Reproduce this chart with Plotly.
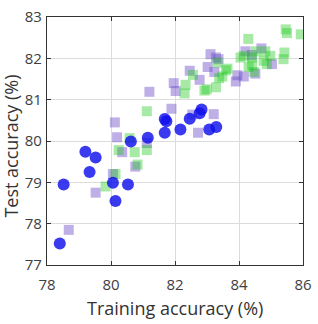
import plotly.graph_objects as go

blue_x = [78.40, 78.52, 79.20, 79.52, 79.33, 80.06, 80.14, 80.53, 80.62, 81.15,
          81.68, 81.68, 81.73, 82.17, 82.46, 82.77, 82.83, 83.07, 83.29]
blue_y = [77.52, 78.95, 79.74, 79.60, 79.25, 78.99, 78.55, 78.95, 79.99, 80.08,
          80.20, 80.53, 80.48, 80.28, 80.54, 80.67, 80.76, 80.28, 80.34]

purple_x = [78.68, 79.52, 80.06, 80.35, 80.76, 80.19, 80.12, 81.12, 81.20, 81.89,
            81.96, 82.02, 82.46, 82.77, 82.54, 82.72, 83.21, 83.11, 83.36, 83.02,
            83.28, 83.23, 83.90, 83.95, 84.20, 84.51, 84.70, 85.03, 84.15, 84.40]
purple_y = [77.85, 78.75, 79.20, 79.73, 79.38, 80.09, 80.45, 79.95, 81.19, 80.78,
            81.40, 81.21, 81.70, 81.48, 80.64, 80.20, 80.65, 82.10, 81.98, 81.79,
            82.02, 81.67, 81.44, 81.59, 82.17, 81.63, 82.24, 81.86, 81.56, 82.08]

green_x = [79.83, 80.14, 80.24, 80.58, 80.74, 80.83, 81.12, 81.12, 82.30, 82.33,
           82.56, 82.92, 82.99, 83.28, 83.33, 83.38, 83.48, 83.59, 83.64, 84.05,
           84.15, 84.29, 84.30, 84.41, 84.41, 84.46, 84.52, 84.77, 84.82, 84.87,
           84.98, 85.39, 85.42, 85.46, 85.50, 85.93]
green_y = [78.90, 79.20, 79.78, 80.07, 79.73, 79.43, 79.78, 80.72, 81.15, 81.36,
           81.60, 81.22, 81.25, 81.30, 81.90, 81.52, 81.56, 81.71, 81.75, 82.02,
           82.06, 82.47, 81.79, 82.02, 81.83, 81.67, 82.17, 81.94, 82.17, 81.86,
           82.06, 81.98, 82.14, 82.70, 82.61, 82.58]

x_ticks = [78, 80, 82, 84, 86]
y_ticks = [77, 78, 79, 80, 81, 82, 83]
x_title = "Training accuracy (%)"
y_title = "Test accuracy (%)"

FONT = "Open Sans"

fig = go.Figure()
fig.add_trace(go.Scatter(
    x=purple_x, y=purple_y, mode="markers",
    marker=dict(symbol="square", size=10, color="rgba(110,80,200,0.45)", line=dict(width=0)),
    showlegend=False))
fig.add_trace(go.Scatter(
    x=green_x, y=green_y, mode="markers",
    marker=dict(symbol="square", size=10, color="rgba(20,200,20,0.38)", line=dict(width=0)),
    showlegend=False))
fig.add_trace(go.Scatter(
    x=blue_x, y=blue_y, mode="markers",
    marker=dict(symbol="circle", size=12, color="rgba(15,15,235,0.82)", line=dict(width=0)),
    showlegend=False))

axis_common = dict(
    showgrid=True, gridcolor="#dcdcdc", gridwidth=1,
    showline=True, linecolor="#333333", linewidth=1.2, mirror="allticks",
    ticks="inside", ticklen=4, tickcolor="#333333",
    zeroline=False, ticklabeloverflow="allow",
    tickfont=dict(family=FONT, size=15, color="#404040"),
)

fig.update_xaxes(range=[78, 86], tickvals=x_ticks, ticktext=[str(v) for v in x_ticks],
                 ticklabelstandoff=6, **axis_common)
fig.update_yaxes(range=[77, 83], tickvals=y_ticks, ticktext=[str(v) for v in y_ticks],
                 ticklabelstandoff=1, **axis_common)

fig.add_annotation(text=x_title, xref="paper", yref="paper", x=0.5, y=-0.172,
                   xanchor="center", yanchor="middle", showarrow=False,
                   font=dict(family=FONT, size=18, color="#333333"))
fig.add_annotation(text=y_title, xref="paper", yref="paper", x=-0.142, y=0.48,
                   xanchor="center", yanchor="middle", showarrow=False, textangle=-90,
                   font=dict(family=FONT, size=18, color="#333333"))

fig.update_layout(
    width=318, height=324,
    margin=dict(l=47, r=11, t=6, b=59),
    plot_bgcolor="white", paper_bgcolor="white",
)

fig.write_html("out.html", config={"displayModeBar": False},
               post_script="document.body.style.margin='0';")
